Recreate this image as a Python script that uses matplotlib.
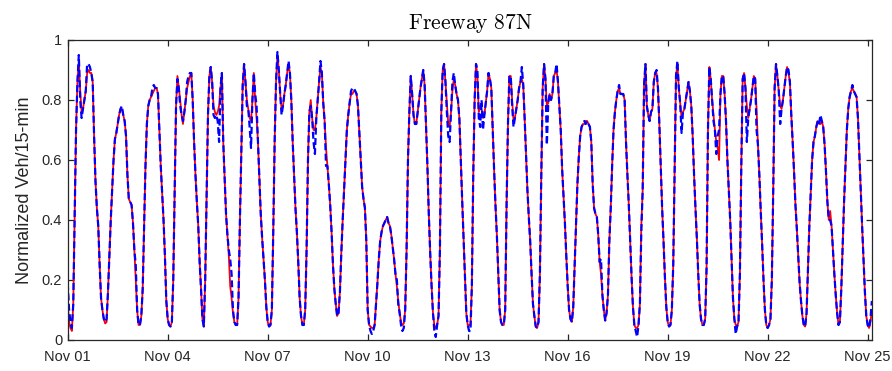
import numpy as np
import pandas as pd
import matplotlib as mpl
import matplotlib.pyplot as plt
import matplotlib.dates as mdates

mpl.rcParams.update({
    "font.family": "Liberation Sans",
    "mathtext.fontset": "cm",
    "lines.scale_dashes": False,
})

# Hourly normalized flow, Nov 01 00:00 onwards (one row per day)
observed = [
    0.19, 0.10, 0.06, 0.04, 0.12, 0.40, 0.70, 0.86, 0.95, 0.80, 0.74, 0.77, 0.80, 0.83, 0.92, 0.92, 0.91, 0.89, 0.86, 0.68, 0.53, 0.44, 0.38, 0.25,  # Nov 01
    0.14, 0.10, 0.07, 0.06, 0.07, 0.16, 0.28, 0.40, 0.50, 0.60, 0.67, 0.69, 0.72, 0.75, 0.77, 0.78, 0.75, 0.73, 0.68, 0.55, 0.47, 0.46, 0.45, 0.39,  # Nov 02
    0.30, 0.25, 0.10, 0.05, 0.05, 0.08, 0.17, 0.38, 0.58, 0.72, 0.78, 0.80, 0.81, 0.84, 0.85, 0.84, 0.84, 0.82, 0.70, 0.58, 0.49, 0.40, 0.28, 0.13,  # Nov 03
    0.07, 0.05, 0.045, 0.06, 0.20, 0.50, 0.78, 0.87, 0.84, 0.78, 0.75, 0.73, 0.76, 0.80, 0.86, 0.88, 0.89, 0.89, 0.80, 0.66, 0.55, 0.46, 0.38, 0.26,  # Nov 04
    0.17, 0.07, 0.045, 0.20, 0.48, 0.75, 0.88, 0.91, 0.86, 0.75, 0.74, 0.75, 0.73, 0.66, 0.84, 0.89, 0.66, 0.54, 0.42, 0.35, 0.30, 0.27, 0.22, 0.10,  # Nov 05
    0.06, 0.05, 0.05, 0.14, 0.40, 0.62, 0.85, 0.92, 0.86, 0.78, 0.77, 0.71, 0.64, 0.80, 0.89, 0.82, 0.78, 0.66, 0.54, 0.42, 0.34, 0.27, 0.20, 0.11,  # Nov 06
    0.06, 0.045, 0.05, 0.10, 0.36, 0.66, 0.86, 0.96, 0.90, 0.82, 0.75, 0.78, 0.82, 0.85, 0.89, 0.93, 0.89, 0.80, 0.66, 0.55, 0.44, 0.36, 0.26, 0.14,  # Nov 07
    0.08, 0.05, 0.05, 0.10, 0.30, 0.60, 0.76, 0.78, 0.74, 0.66, 0.62, 0.74, 0.80, 0.86, 0.93, 0.89, 0.79, 0.73, 0.58, 0.58, 0.52, 0.45, 0.36, 0.25,  # Nov 08
    0.17, 0.12, 0.08, 0.09, 0.16, 0.29, 0.40, 0.50, 0.60, 0.70, 0.75, 0.79, 0.83, 0.84, 0.84, 0.83, 0.82, 0.78, 0.69, 0.60, 0.51, 0.47, 0.44, 0.33,  # Nov 09
    0.10, 0.05, 0.03, 0.02, 0.03, 0.05, 0.12, 0.19, 0.27, 0.33, 0.36, 0.38, 0.39, 0.40, 0.41, 0.39, 0.38, 0.35, 0.31, 0.27, 0.22, 0.20, 0.12, 0.09,  # Nov 10
    0.05, 0.03, 0.04, 0.10, 0.30, 0.60, 0.76, 0.88, 0.82, 0.75, 0.72, 0.72, 0.76, 0.80, 0.84, 0.87, 0.90, 0.85, 0.72, 0.58, 0.42, 0.29, 0.18, 0.09,  # Nov 11
    0.03, 0.01, 0.05, 0.08, 0.30, 0.76, 0.90, 0.92, 0.86, 0.76, 0.68, 0.66, 0.76, 0.86, 0.89, 0.85, 0.82, 0.80, 0.74, 0.60, 0.47, 0.34, 0.20, 0.09,  # Nov 12
    0.05, 0.03, 0.03, 0.18, 0.55, 0.80, 0.92, 0.90, 0.74, 0.71, 0.80, 0.70, 0.75, 0.79, 0.83, 0.89, 0.87, 0.84, 0.70, 0.57, 0.45, 0.35, 0.22, 0.10,  # Nov 13
    0.06, 0.05, 0.05, 0.10, 0.45, 0.72, 0.88, 0.88, 0.78, 0.71, 0.74, 0.77, 0.80, 0.84, 0.86, 0.91, 0.85, 0.74, 0.62, 0.50, 0.41, 0.33, 0.22, 0.12,  # Nov 14
    0.08, 0.045, 0.04, 0.06, 0.22, 0.55, 0.84, 0.92, 0.87, 0.65, 0.79, 0.82, 0.80, 0.82, 0.88, 0.89, 0.92, 0.86, 0.78, 0.70, 0.57, 0.48, 0.39, 0.28,  # Nov 15
    0.18, 0.10, 0.07, 0.06, 0.11, 0.25, 0.40, 0.52, 0.61, 0.68, 0.71, 0.72, 0.73, 0.72, 0.73, 0.72, 0.71, 0.66, 0.52, 0.44, 0.42, 0.41, 0.35, 0.26,  # Nov 16
    0.27, 0.15, 0.10, 0.065, 0.09, 0.15, 0.33, 0.44, 0.58, 0.70, 0.76, 0.80, 0.83, 0.85, 0.82, 0.82, 0.82, 0.80, 0.66, 0.55, 0.45, 0.33, 0.21, 0.11,  # Nov 17
    0.05, 0.03, 0.01, 0.05, 0.12, 0.36, 0.50, 0.85, 0.92, 0.78, 0.75, 0.73, 0.76, 0.77, 0.86, 0.89, 0.90, 0.84, 0.72, 0.58, 0.44, 0.33, 0.21, 0.11,  # Nov 18
    0.06, 0.045, 0.05, 0.10, 0.25, 0.57, 0.88, 0.93, 0.84, 0.79, 0.69, 0.76, 0.77, 0.80, 0.83, 0.86, 0.83, 0.78, 0.68, 0.55, 0.44, 0.34, 0.22, 0.12,  # Nov 19
    0.07, 0.05, 0.05, 0.07, 0.24, 0.70, 0.91, 0.87, 0.80, 0.73, 0.70, 0.62, 0.68, 0.70, 0.82, 0.88, 0.88, 0.82, 0.73, 0.60, 0.50, 0.40, 0.27, 0.14,  # Nov 20
    0.07, 0.02, 0.045, 0.06, 0.22, 0.58, 0.87, 0.89, 0.84, 0.66, 0.74, 0.77, 0.80, 0.84, 0.88, 0.87, 0.70, 0.65, 0.55, 0.43, 0.32, 0.20, 0.10, 0.05,  # Nov 21
    0.04, 0.05, 0.07, 0.20, 0.50, 0.84, 0.92, 0.88, 0.83, 0.72, 0.77, 0.80, 0.84, 0.88, 0.91, 0.90, 0.86, 0.75, 0.66, 0.56, 0.45, 0.37, 0.28, 0.19,  # Nov 22
    0.13, 0.08, 0.05, 0.045, 0.09, 0.24, 0.38, 0.49, 0.60, 0.66, 0.68, 0.71, 0.73, 0.72, 0.75, 0.73, 0.71, 0.65, 0.56, 0.46, 0.40, 0.40, 0.38, 0.30,  # Nov 23
    0.22, 0.15, 0.09, 0.05, 0.06, 0.17, 0.32, 0.46, 0.58, 0.70, 0.77, 0.81, 0.83, 0.85, 0.83, 0.82, 0.81, 0.74, 0.62, 0.50, 0.38, 0.27, 0.16, 0.08,  # Nov 24
    0.05, 0.04, 0.07, 0.13,  # Nov 25
]

predicted = [
    0.12, 0.06, 0.04, 0.03, 0.12, 0.40, 0.70, 0.86, 0.93, 0.83, 0.76, 0.77, 0.80, 0.83, 0.89, 0.90, 0.89, 0.89, 0.86, 0.68, 0.53, 0.44, 0.38, 0.25,  # Nov 01
    0.14, 0.10, 0.07, 0.055, 0.06, 0.16, 0.28, 0.40, 0.50, 0.60, 0.67, 0.69, 0.72, 0.75, 0.77, 0.77, 0.75, 0.73, 0.68, 0.55, 0.47, 0.46, 0.45, 0.39,  # Nov 02
    0.30, 0.20, 0.10, 0.05, 0.05, 0.08, 0.17, 0.38, 0.58, 0.72, 0.78, 0.80, 0.81, 0.82, 0.83, 0.84, 0.84, 0.82, 0.70, 0.58, 0.49, 0.40, 0.28, 0.13,  # Nov 03
    0.07, 0.05, 0.045, 0.06, 0.20, 0.50, 0.78, 0.88, 0.84, 0.80, 0.75, 0.72, 0.76, 0.80, 0.84, 0.86, 0.88, 0.89, 0.80, 0.66, 0.55, 0.46, 0.38, 0.26,  # Nov 04
    0.17, 0.07, 0.045, 0.20, 0.48, 0.75, 0.88, 0.91, 0.86, 0.78, 0.76, 0.75, 0.76, 0.78, 0.84, 0.89, 0.66, 0.54, 0.42, 0.35, 0.28, 0.18, 0.14, 0.09,  # Nov 05
    0.06, 0.05, 0.05, 0.14, 0.40, 0.62, 0.85, 0.92, 0.86, 0.80, 0.77, 0.74, 0.73, 0.80, 0.89, 0.80, 0.74, 0.66, 0.54, 0.42, 0.34, 0.27, 0.20, 0.11,  # Nov 06
    0.06, 0.045, 0.05, 0.10, 0.36, 0.66, 0.86, 0.95, 0.90, 0.82, 0.77, 0.78, 0.82, 0.85, 0.89, 0.92, 0.89, 0.80, 0.66, 0.55, 0.44, 0.36, 0.26, 0.14,  # Nov 07
    0.08, 0.05, 0.05, 0.10, 0.30, 0.60, 0.76, 0.80, 0.74, 0.70, 0.70, 0.74, 0.80, 0.86, 0.91, 0.89, 0.79, 0.73, 0.64, 0.58, 0.52, 0.45, 0.36, 0.25,  # Nov 08
    0.17, 0.12, 0.08, 0.09, 0.16, 0.29, 0.40, 0.50, 0.60, 0.70, 0.75, 0.79, 0.82, 0.82, 0.83, 0.83, 0.82, 0.78, 0.69, 0.60, 0.51, 0.47, 0.44, 0.33,  # Nov 09
    0.10, 0.05, 0.045, 0.04, 0.04, 0.05, 0.12, 0.19, 0.27, 0.33, 0.36, 0.38, 0.39, 0.40, 0.41, 0.39, 0.38, 0.35, 0.31, 0.27, 0.22, 0.18, 0.13, 0.09,  # Nov 10
    0.06, 0.05, 0.055, 0.10, 0.30, 0.60, 0.76, 0.88, 0.82, 0.75, 0.72, 0.72, 0.76, 0.80, 0.84, 0.87, 0.90, 0.85, 0.72, 0.58, 0.42, 0.29, 0.18, 0.09,  # Nov 11
    0.05, 0.04, 0.05, 0.08, 0.30, 0.76, 0.90, 0.92, 0.86, 0.79, 0.72, 0.71, 0.76, 0.83, 0.87, 0.85, 0.82, 0.80, 0.74, 0.60, 0.47, 0.34, 0.20, 0.09,  # Nov 12
    0.05, 0.05, 0.05, 0.18, 0.55, 0.80, 0.92, 0.88, 0.76, 0.78, 0.77, 0.74, 0.75, 0.79, 0.83, 0.89, 0.87, 0.84, 0.70, 0.57, 0.45, 0.35, 0.22, 0.10,  # Nov 13
    0.06, 0.05, 0.05, 0.10, 0.45, 0.72, 0.88, 0.88, 0.80, 0.73, 0.74, 0.77, 0.80, 0.84, 0.86, 0.87, 0.85, 0.74, 0.62, 0.50, 0.41, 0.33, 0.22, 0.12,  # Nov 14
    0.08, 0.045, 0.04, 0.06, 0.22, 0.55, 0.84, 0.92, 0.87, 0.78, 0.79, 0.82, 0.80, 0.82, 0.88, 0.89, 0.90, 0.86, 0.78, 0.70, 0.57, 0.48, 0.39, 0.28,  # Nov 15
    0.18, 0.10, 0.07, 0.06, 0.11, 0.25, 0.40, 0.52, 0.61, 0.68, 0.71, 0.72, 0.72, 0.73, 0.73, 0.72, 0.71, 0.66, 0.52, 0.44, 0.42, 0.41, 0.35, 0.26,  # Nov 16
    0.22, 0.15, 0.10, 0.065, 0.09, 0.15, 0.33, 0.44, 0.58, 0.70, 0.76, 0.80, 0.83, 0.84, 0.82, 0.82, 0.82, 0.80, 0.66, 0.55, 0.45, 0.33, 0.21, 0.11,  # Nov 17
    0.05, 0.04, 0.04, 0.05, 0.12, 0.38, 0.50, 0.85, 0.92, 0.78, 0.75, 0.73, 0.76, 0.77, 0.86, 0.89, 0.89, 0.84, 0.72, 0.58, 0.44, 0.33, 0.21, 0.11,  # Nov 18
    0.06, 0.045, 0.05, 0.10, 0.25, 0.57, 0.88, 0.92, 0.84, 0.79, 0.74, 0.76, 0.77, 0.80, 0.83, 0.86, 0.83, 0.78, 0.68, 0.55, 0.44, 0.34, 0.22, 0.12,  # Nov 19
    0.07, 0.05, 0.05, 0.07, 0.24, 0.70, 0.91, 0.87, 0.80, 0.75, 0.70, 0.66, 0.64, 0.60, 0.82, 0.88, 0.88, 0.82, 0.73, 0.60, 0.50, 0.40, 0.27, 0.14,  # Nov 20
    0.07, 0.05, 0.045, 0.06, 0.22, 0.58, 0.87, 0.89, 0.84, 0.78, 0.74, 0.77, 0.80, 0.84, 0.88, 0.87, 0.77, 0.65, 0.55, 0.43, 0.32, 0.20, 0.10, 0.05,  # Nov 21
    0.04, 0.05, 0.07, 0.20, 0.50, 0.84, 0.92, 0.88, 0.83, 0.78, 0.77, 0.80, 0.84, 0.88, 0.91, 0.89, 0.86, 0.75, 0.66, 0.56, 0.45, 0.37, 0.28, 0.19,  # Nov 22
    0.13, 0.08, 0.05, 0.045, 0.09, 0.24, 0.38, 0.49, 0.60, 0.66, 0.68, 0.71, 0.73, 0.72, 0.72, 0.73, 0.71, 0.65, 0.56, 0.46, 0.40, 0.43, 0.38, 0.30,  # Nov 23
    0.22, 0.15, 0.09, 0.05, 0.06, 0.17, 0.32, 0.46, 0.58, 0.70, 0.77, 0.81, 0.83, 0.84, 0.83, 0.82, 0.81, 0.74, 0.62, 0.50, 0.38, 0.27, 0.16, 0.08,  # Nov 24
    0.05, 0.04, 0.06, 0.10,  # Nov 25
]

tick_days = [1, 4, 7, 10, 13, 16, 19, 22, 25]
y_ticks = [0, 0.2, 0.4, 0.6, 0.8, 1]
y_labels = ["0", "0.2", "0.4", "0.6", "0.8", "1"]

t = pd.date_range("2013-11-01", periods=len(observed), freq="h")

fig = plt.figure(figsize=(8.92, 3.71), dpi=100)
ax = fig.add_axes([0.0759, 0.0836, 0.9015, 0.8086])

# model (solid red) under the measured series (dashed blue)
ax.plot(t, predicted, color="#ff0000", lw=1.3)
ax.plot(t, observed, color="#0000ff", lw=1.6, linestyle=(0, (5, 2.5)))

ax.set_xlim(t[0], t[-1])
ax.set_ylim(0, 1)
ax.xaxis.set_major_locator(mdates.DayLocator(bymonthday=tick_days))
ax.xaxis.set_major_formatter(mdates.DateFormatter("%b %d"))
ax.set_yticks(y_ticks)
ax.set_yticklabels(y_labels)

dark = "#262626"
for s in ax.spines.values():
    s.set_color(dark)
    s.set_linewidth(0.9)
ax.tick_params(direction="in", length=4, width=0.9, colors=dark,
               labelsize=10.5, top=True, right=True, pad=4)
ax.tick_params(axis="x", pad=7)

ax.set_ylabel("Normalized Veh/15-min", fontsize=13, color=dark, labelpad=6)
ax.set_title(r"$\mathrm{Freeway\ 87N}$", fontsize=15.5, pad=8, color="black")

fig.savefig("out.png", dpi=100)
